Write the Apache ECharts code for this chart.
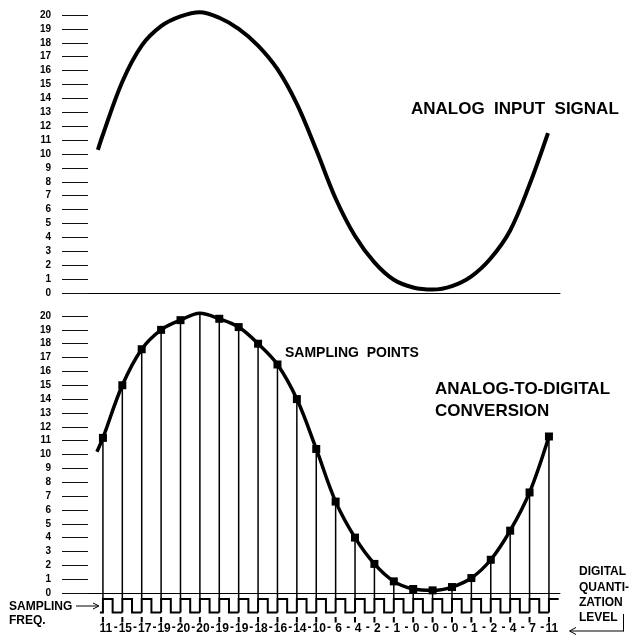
<!DOCTYPE html>
<html><head><meta charset="utf-8">
<script src="https://cdn.jsdelivr.net/npm/echarts@6/dist/echarts.min.js"></script>
<style>html,body{margin:0;padding:0;background:#fff}#c{width:630px;height:636px}</style>
</head><body><div id="c"></div>
<script>
const FONT = '"Liberation Sans", Arial, Helvetica, sans-serif';

// Quantization axis (both panels)
const levelMin = 0, levelMax = 20, levelStep = 1;
// Time axis expressed in sample periods
const timeMin = -0.77, timeMax = 23.57;

// Top panel: analog input signal (time in sample periods, level)
const analogX = [-0.26, 0, 1, 2, 3, 4, 5, 6, 7, 8, 9, 10, 11, 12, 13, 14, 15, 16, 17, 18, 19, 20, 21, 22, 22.95];
const analogY = [10.3, 11.4, 15.2, 17.8, 19.2, 19.9, 20.2, 19.8, 19.0, 17.8, 16.1, 13.6, 10.3, 6.8, 4.1, 2.2, 0.95, 0.4, 0.25, 0.5, 1.2, 2.5, 4.5, 7.8, 11.5];

// Bottom panel: sampling points
const sampleIndex = [0,1,2,3,4,5,6,7,8,9,10,11,12,13,14,15,16,17,18,19,20,21,22,23];
const sampleLevel = [11.2, 15.0, 17.6, 19.0, 19.7, 20.2, 19.8, 19.2, 18.0, 16.5, 14.0, 10.4, 6.6, 4.0, 2.1, 0.84, 0.29, 0.19, 0.43, 1.08, 2.4, 4.5, 7.26, 11.3];
// Digital quantization level labels
const quantLevel = [11,15,17,19,20,20,19,19,18,16,14,10,6,4,2,1,0,0,0,1,2,4,7,11];
// Start of the analog curve in bottom panel
const convStartX = -0.31, convStartY = 10.2;

const chart = echarts.init(document.getElementById('c'), null, {renderer: 'canvas'});

function yAxisCfg(gi) {
  return {
    type: 'value', gridIndex: gi, min: levelMin, max: levelMax, interval: levelStep,
    axisLine: {show: false, onZero: false},
    axisTick: {show: true, inside: false, length: 26, lineStyle: {color: '#111', width: 1}},
    axisLabel: {margin: 37, fontSize: 10, fontWeight: 'bold', fontFamily: FONT, color: '#000'},
    splitLine: {show: false}
  };
}
function xAxisCfg(gi) {
  return {
    type: 'value', gridIndex: gi, min: timeMin, max: timeMax,
    axisLine: {show: true, onZero: false, lineStyle: {color: '#000', width: 1}},
    axisTick: {show: false}, axisLabel: {show: false}, splitLine: {show: false}
  };
}
function txt(t, x, y, size) {
  return {type: 'text', x: x, y: y, silent: true,
    style: {text: t, font: 'bold ' + size + 'px ' + FONT, fill: '#000',
      align: 'left', verticalAlign: 'middle', textAlign: 'left', textVerticalAlign: 'middle'}};
}
function seg(x1, y1, x2, y2) {
  return {type: 'line', silent: true, shape: {x1: x1, y1: y1, x2: x2, y2: y2}, style: {stroke: '#000', lineWidth: 1}};
}
function poly(pts) {
  return {type: 'polyline', silent: true, shape: {points: pts}, style: {stroke: '#000', lineWidth: 1, fill: null}};
}

const samples = sampleIndex.map((i, k) => [i, sampleLevel[k]]);
const lastIdx = sampleIndex[sampleIndex.length - 1];

const option = {
  animation: false,
  backgroundColor: '#fff',
  grid: [
    {left: 88, width: 472, top: 15, height: 278, outerBoundsMode: 'none'},
    {left: 88, width: 472, top: 316, height: 277, outerBoundsMode: 'none'}
  ],
  xAxis: [xAxisCfg(0), xAxisCfg(1)],
  yAxis: [yAxisCfg(0), yAxisCfg(1)],
  series: [
    {
      type: 'line', xAxisIndex: 0, yAxisIndex: 0, clip: false, smooth: 0.35,
      symbol: 'none', silent: true,
      lineStyle: {color: '#000', width: 4},
      data: analogX.map((x, k) => [x, analogY[k]])
    },
    {
      type: 'line', xAxisIndex: 1, yAxisIndex: 1, clip: false, smooth: 0.35,
      symbol: 'none', silent: true,
      lineStyle: {color: '#000', width: 3.5},
      data: [[convStartX, convStartY]].concat(samples)
    },
    {
      // sample stems from the sampling pulse up to the sampled point
      type: 'custom', xAxisIndex: 1, yAxisIndex: 1, silent: true,
      encode: {x: 0, y: 1},
      data: samples,
      renderItem: function (params, api) {
        const p = api.coord([api.value(0), api.value(1)]);
        const b = api.coord([api.value(0), levelMin]);
        return {type: 'line', shape: {x1: p[0], y1: p[1], x2: p[0], y2: b[1] + 5.5},
          style: {stroke: '#000', lineWidth: 1.5}};
      }
    },
    {
      type: 'scatter', xAxisIndex: 1, yAxisIndex: 1, symbol: 'rect', symbolSize: 8,
      silent: true, itemStyle: {color: '#000', opacity: 1}, z: 5,
      data: samples
    },
    {
      // sampling clock pulse train, ticks and quantization labels
      type: 'custom', xAxisIndex: 1, yAxisIndex: 1, silent: true,
      encode: {x: 0, y: 1},
      data: sampleIndex.map((i, k) => [i, levelMin, quantLevel[k]]),
      renderItem: function (params, api) {
        const i = api.value(0);
        const c = api.coord([i, levelMin]);
        const x = c[0], base = c[1];
        const step = api.size([1, 0])[0];
        const hi = base + 6, lo = base + 19.5;
        let pts;
        if (i === lastIdx) pts = [[x, lo], [x, hi], [x + step / 2, hi]];
        else pts = [[x, lo], [x, hi], [x + step / 2, hi], [x + step / 2, lo], [x + step, lo]];
        if (i === sampleIndex[0]) pts.unshift([x - 3, lo]);
        const font = 'bold 12px ' + FONT;
        const children = [
          {type: 'polyline', shape: {points: pts}, style: {stroke: '#000', lineWidth: 2, fill: null}},
          {type: 'line', shape: {x1: x, y1: base + 24, x2: x, y2: base + 29.5}, style: {stroke: '#000', lineWidth: 2}},
          {type: 'text', style: {text: String(api.value(2)), x: x + 3, y: base + 35.5, font: font, fill: '#000',
            align: 'center', verticalAlign: 'middle', textAlign: 'center', textVerticalAlign: 'middle'}}
        ];
        if (i !== lastIdx) {
          children.push({type: 'text', style: {text: '-', x: x + step / 2 + 3, y: base + 35, font: font, fill: '#000',
            align: 'center', verticalAlign: 'middle', textAlign: 'center', textVerticalAlign: 'middle'}});
        }
        return {type: 'group', children: children};
      }
    }
  ],
  graphic: [
    txt('ANALOG  INPUT  SIGNAL', 411, 109, 17),
    txt('SAMPLING  POINTS', 285, 353, 14),
    txt('ANALOG-TO-DIGITAL', 435, 389, 17),
    txt('CONVERSION', 435, 411.5, 17),
    txt('DIGITAL', 579, 572, 12),
    txt('QUANTI-', 579, 587.3, 12),
    txt('ZATION', 579, 602.5, 12),
    txt('LEVEL', 579, 617.7, 12),
    txt('SAMPLING', 9, 607, 12),
    txt('FREQ.', 9, 621, 12),
    seg(76, 606, 98, 606),
    poly([[93, 603], [99, 606], [93, 609]]),
    seg(570, 631, 623.5, 631),
    seg(623.5, 614, 623.5, 631.5),
    poly([[576, 627.5], [569.5, 631], [576, 634.5]])
  ]
};
chart.setOption(option);
</script>
</body></html>
